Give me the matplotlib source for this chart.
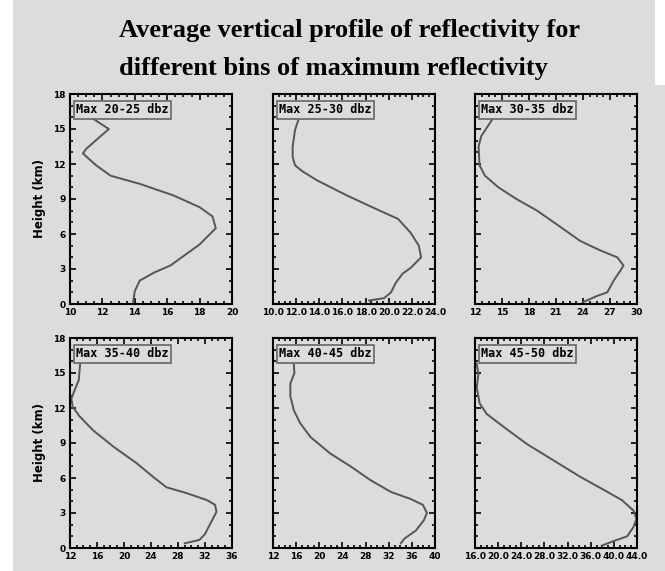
import numpy as np
import matplotlib.pyplot as plt
from matplotlib.patches import Rectangle
from matplotlib.ticker import MultipleLocator, AutoMinorLocator, FormatStrFormatter

# profiles: reflectivity (dBZ) vs height (km)
h1 = [0.2, 1.1, 2.0, 2.7, 3.3, 4.0, 5.1, 6.5, 7.5, 8.3, 9.3, 10.3, 11.0, 11.9, 12.9, 13.3, 15.0, 15.9]
z1 = [13.9, 14.0, 14.3, 15.2, 16.2, 16.9, 18.0, 19.0, 18.8, 18.0, 16.4, 14.3, 12.5, 11.6, 10.8, 11.0, 12.4, 11.4]

h2 = [0.3, 0.5, 1.0, 1.8, 2.6, 3.1, 4.0, 5.0, 6.1, 7.3, 8.1, 9.3, 10.6, 11.4, 11.9, 12.6, 13.5, 14.9, 15.8]
z2 = [18.3, 19.6, 20.2, 20.6, 21.2, 21.9, 22.8, 22.6, 21.9, 20.8, 19.0, 16.4, 13.8, 12.5, 11.9, 11.7, 11.7, 11.9, 12.2]

h3 = [0.2, 0.7, 1.0, 2.0, 2.8, 3.3, 4.0, 4.6, 5.4, 6.6, 8.0, 9.0, 10.0, 11.0, 11.9, 13.5, 14.4, 15.8]
z3 = [24.1, 25.6, 26.7, 27.4, 28.1, 28.5, 27.8, 25.9, 23.7, 21.5, 18.9, 16.6, 14.6, 13.1, 12.5, 12.4, 12.7, 13.9]

h4 = [0.4, 0.7, 1.2, 2.1, 3.1, 3.7, 4.1, 4.7, 5.2, 6.1, 7.3, 8.7, 10.1, 11.3, 12.1, 12.8, 13.4, 14.4, 15.8]
z4 = [29.0, 31.2, 32.0, 32.8, 33.7, 33.5, 32.3, 29.3, 26.3, 24.3, 21.8, 18.4, 15.4, 13.4, 12.4, 12.2, 12.6, 13.3, 13.5]

h5 = [0.4, 0.8, 1.5, 2.4, 3.0, 3.7, 4.2, 4.8, 5.8, 7.0, 8.1, 9.5, 10.7, 11.8, 13.0, 14.1, 15.0, 15.7]
z5 = [34.1, 34.7, 36.7, 38.1, 38.6, 37.9, 35.8, 32.4, 28.9, 25.4, 21.9, 18.5, 16.7, 15.6, 15.0, 15.0, 15.7, 15.6]

h6 = [0.2, 0.6, 1.0, 1.8, 2.5, 3.2, 4.1, 5.0, 6.1, 7.5, 8.9, 10.4, 11.5, 12.4, 13.8, 14.9, 15.8]
z6 = [37.9, 40.0, 42.3, 43.4, 43.9, 43.4, 41.4, 38.2, 34.2, 29.6, 25.0, 20.9, 18.0, 16.8, 16.3, 16.6, 16.3]

labels = ["Max 20-25 dbz", "Max 25-30 dbz", "Max 30-35 dbz",
          "Max 35-40 dbz", "Max 40-45 dbz", "Max 45-50 dbz"]
xlims = [(10, 20), (10, 24), (12, 30), (12, 36), (12, 40), (16, 44)]
xsteps = [2, 2, 3, 4, 4, 4]
xfmts = ["%d", "%.1f", "%d", "%d", "%d", "%.1f"]
heights = [h1, h2, h3, h4, h5, h6]
refl = [z1, z2, z3, z4, z5, z6]

bg = "#dcdcdc"
fig = plt.figure(figsize=(6.65, 5.71), dpi=100, facecolor="white")
W, H = 665, 571
# gray page behind title and panels
fig.patches.append(Rectangle((13 / W, 0), (W - 13) / W, 1 - 85 / H,
                             transform=fig.transFigure, fc=bg, ec="none", zorder=-1))
fig.patches.append(Rectangle((13 / W, 1 - 85 / H), (655 - 13) / W, 85 / H,
                             transform=fig.transFigure, fc=bg, ec="none", zorder=-1))

fig.text(119 / W, 1 - 30 / H, "Average vertical profile of reflectivity for",
         family="Liberation Serif", weight="bold", fontsize=19, va="center", ha="left")
fig.text(119 / W, 1 - 68 / H, "different bins of maximum reflectivity",
         family="Liberation Serif", weight="bold", fontsize=19, va="center", ha="left")

lefts = [70, 273, 475]
tops = [94, 338]
pw, ph = 162, 210

for i in range(6):
    r, c = divmod(i, 3)
    ax = fig.add_axes([lefts[c] / W, 1 - (tops[r] + ph) / H, pw / W, ph / H])
    ax.set_facecolor(bg)
    ax.plot(refl[i], heights[i], color="#555555", lw=1.4)
    ax.set_xlim(*xlims[i])
    ax.set_ylim(0, 18)
    ax.xaxis.set_major_locator(MultipleLocator(xsteps[i]))
    ax.xaxis.set_major_formatter(FormatStrFormatter(xfmts[i]))
    ax.xaxis.set_minor_locator(AutoMinorLocator(4))
    ax.yaxis.set_major_locator(MultipleLocator(3))
    ax.yaxis.set_minor_locator(AutoMinorLocator(3))
    ax.tick_params(which="both", direction="in", top=True, right=True, width=1.2)
    ax.tick_params(which="major", length=4, labelsize=6.5, pad=3)
    ax.tick_params(which="minor", length=2)
    for s in ax.spines.values():
        s.set_linewidth(1.5)
    for t in ax.get_xticklabels() + ax.get_yticklabels():
        t.set_fontweight("bold")
    if c == 0:
        ax.set_ylabel("Height (km)", fontsize=8.5, fontweight="bold", labelpad=5)
    else:
        ax.set_yticklabels([])
    ax.text(0.04, 0.955, labels[i], transform=ax.transAxes, va="top", ha="left",
            family="DejaVu Sans Mono", fontsize=8.5, fontweight="bold",
            bbox=dict(boxstyle="square,pad=0.2", fc=bg, ec="#666666", lw=1.2))

fig.savefig("out.png", dpi=100, facecolor=fig.get_facecolor())
